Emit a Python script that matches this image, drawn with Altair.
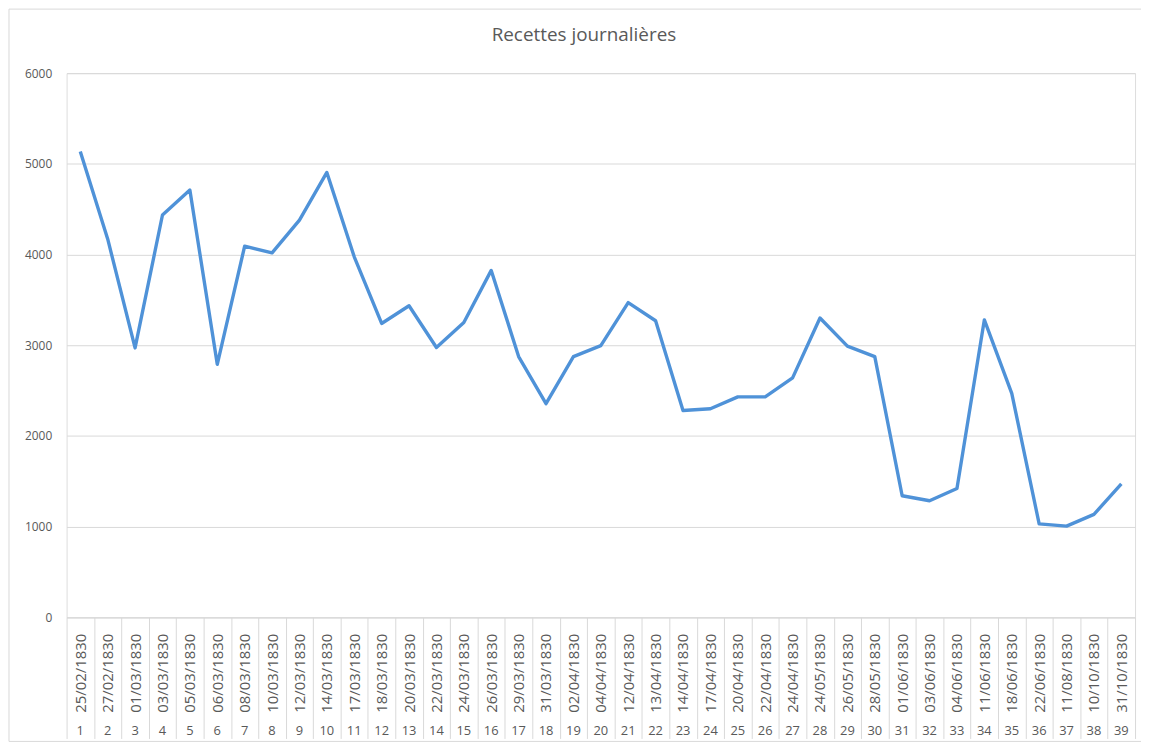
import altair as alt
import pandas as pd

dates = ["25/02/1830", "27/02/1830", "01/03/1830", "03/03/1830", "05/03/1830",
         "06/03/1830", "08/03/1830", "10/03/1830", "12/03/1830", "14/03/1830",
         "17/03/1830", "18/03/1830", "20/03/1830", "22/03/1830", "24/03/1830",
         "26/03/1830", "29/03/1830", "31/03/1830", "02/04/1830", "04/04/1830",
         "12/04/1830", "13/04/1830", "14/04/1830", "17/04/1830", "20/04/1830",
         "22/04/1830", "24/04/1830", "24/05/1830", "26/05/1830", "28/05/1830",
         "01/06/1830", "03/06/1830", "04/06/1830", "11/06/1830", "18/06/1830",
         "22/06/1830", "11/08/1830", "10/10/1830", "31/10/1830"]
numeros = [str(i) for i in range(1, 40)]
recettes = [5135, 4172, 2970, 4436, 4711, 2790, 4092, 4018, 4380, 4905,
            3975, 3240, 3435, 2975, 3250, 3825, 2875, 2355, 2875, 2995,
            3470, 3270, 2280, 2300, 2430, 2430, 2640, 3300, 2990, 2875,
            1340, 1285, 1420, 3280, 2470, 1030, 1005, 1135, 1470]
y_ticks = [0, 1000, 2000, 3000, 4000, 5000, 6000]

df = pd.DataFrame({"date": dates, "num": numeros, "recettes": recettes})

GRAY_TXT = "#595959"
GRAY_LINE = "#d9d9d9"
FONT = "Open Sans"

x_enc = alt.X(
    "date:N",
    sort=dates,
    bandPosition=0.5,
    scale=alt.Scale(type="band", paddingInner=0, paddingOuter=0),
    axis=alt.Axis(
        title=None,
        labelAngle=-90,
        labelFont=FONT,
        labelFontSize=15,
        labelColor=GRAY_TXT,
        labelPadding=-106,
        labelOverlap=False,
        labelBound=False,
        tickBand="extent",
        tickSize=122,
        tickColor=GRAY_LINE,
        domainColor=GRAY_LINE,
        grid=False,
    ),
)

base = alt.Chart(df)

line = base.mark_line(color="#4f92d8", strokeWidth=3.4, strokeJoin="round").encode(
    x=x_enc,
    y=alt.Y(
        "recettes:Q",
        scale=alt.Scale(domain=[0, 6000], nice=False),
        axis=alt.Axis(
            title=None,
            values=y_ticks,
            format="d",
            domain=False,
            ticks=False,
            labelPadding=15,
            labelFont=FONT,
            labelFontSize=12,
            labelColor=GRAY_TXT,
            gridColor=GRAY_LINE,
            gridWidth=1,
        ),
    ),
)

nums = base.mark_text(font=FONT, fontSize=13, color=GRAY_TXT, baseline="middle").encode(
    x=alt.X("date:N", sort=dates, bandPosition=0.5),
    y=alt.value(663),
    text="num:N",
)

frame = alt.Chart(pd.DataFrame({"a": [0]})).mark_rect(
    fillOpacity=0, stroke=GRAY_LINE, strokeWidth=1
).encode(
    x=alt.value(-58), x2=alt.value(1090), y=alt.value(-64.5), y2=alt.value(673)
)

chart = alt.layer(frame, line, nums).properties(
    width=1076,
    height=548,
    autosize=alt.AutoSizeParams(type="none"),
    padding={"left": 59, "top": 63, "right": 6, "bottom": 127},
    title=alt.TitleParams(
        "Recettes journalières",
        font=FONT,
        fontSize=19,
        fontWeight="normal",
        color=GRAY_TXT,
        anchor="middle",
        frame="group",
        dx=-17,
        baseline="alphabetic",
        offset=-52,
    ),
).configure_view(strokeWidth=0).configure(background="white")

chart.save("out.html", embed_options={"renderer": "svg", "actions": False})
